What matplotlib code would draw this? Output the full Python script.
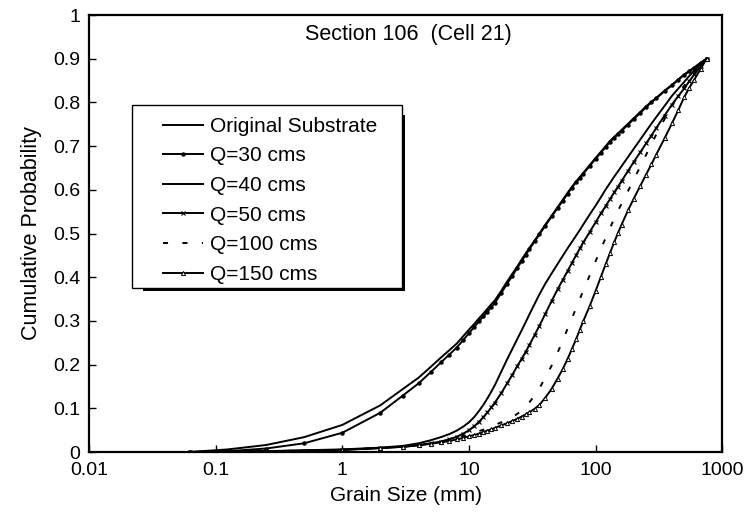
import matplotlib
matplotlib.use("Agg")
import matplotlib.pyplot as plt
from matplotlib.patches import Rectangle

plt.rcParams["font.family"] = ["Liberation Sans", "DejaVu Sans"]

# Sieve sizes (mm) shared by every gradation curve
grain_size = [0.0625, 0.125, 0.25, 0.5, 1, 2, 3, 4, 5, 6, 7, 8, 9, 10, 11, 12,
              13, 14, 15, 16, 18, 20, 22, 24, 26, 28, 30, 33, 36, 40, 45, 50,
              55, 60, 65, 70, 75, 80, 90, 100, 110, 120, 130, 140, 150, 160,
              180, 200, 225, 250, 275, 300, 350, 400, 450, 500, 550, 600, 675,
              750]

original = [0.000, 0.006, 0.016, 0.034, 0.062, 0.107, 0.144, 0.170, 0.195, 0.216,
            0.233, 0.248, 0.265, 0.280, 0.293, 0.306, 0.317, 0.328, 0.338, 0.347,
            0.369, 0.390, 0.408, 0.424, 0.440, 0.454, 0.467, 0.484, 0.500, 0.520,
            0.541, 0.560, 0.577, 0.593, 0.607, 0.619, 0.629, 0.639, 0.657, 0.673,
            0.687, 0.700, 0.712, 0.721, 0.729, 0.737, 0.751, 0.764, 0.778, 0.791,
            0.801, 0.810, 0.827, 0.840, 0.853, 0.864, 0.872, 0.880, 0.891, 0.900]

q30 = [0.000, 0.002, 0.008, 0.020, 0.044, 0.090, 0.129, 0.157, 0.183, 0.205,
       0.223, 0.239, 0.256, 0.272, 0.286, 0.299, 0.311, 0.321, 0.332, 0.341,
       0.364, 0.385, 0.403, 0.421, 0.436, 0.451, 0.464, 0.482, 0.498, 0.518,
       0.539, 0.558, 0.575, 0.591, 0.605, 0.617, 0.627, 0.637, 0.655, 0.671,
       0.685, 0.698, 0.710, 0.719, 0.727, 0.735, 0.749, 0.762, 0.776, 0.789,
       0.800, 0.809, 0.826, 0.839, 0.852, 0.863, 0.871, 0.879, 0.890, 0.900]

q40 = [0.000, 0.001, 0.002, 0.004, 0.006, 0.010, 0.014, 0.020, 0.027, 0.034,
       0.041, 0.049, 0.058, 0.068, 0.080, 0.094, 0.108, 0.123, 0.138, 0.153,
       0.184, 0.212, 0.236, 0.258, 0.278, 0.297, 0.315, 0.339, 0.361, 0.385,
       0.409, 0.430, 0.449, 0.466, 0.481, 0.495, 0.508, 0.521, 0.544, 0.564,
       0.583, 0.601, 0.616, 0.630, 0.642, 0.654, 0.675, 0.694, 0.715, 0.734,
       0.751, 0.766, 0.792, 0.815, 0.832, 0.847, 0.861, 0.873, 0.887, 0.900]

q50 = [0.000, 0.001, 0.002, 0.003, 0.005, 0.009, 0.012, 0.016, 0.020, 0.024,
       0.029, 0.035, 0.042, 0.050, 0.059, 0.069, 0.080, 0.091, 0.102, 0.113,
       0.135, 0.157, 0.177, 0.196, 0.213, 0.229, 0.245, 0.268, 0.289, 0.316,
       0.346, 0.372, 0.394, 0.414, 0.433, 0.450, 0.466, 0.480, 0.504, 0.526,
       0.546, 0.563, 0.579, 0.594, 0.607, 0.620, 0.643, 0.664, 0.686, 0.706,
       0.724, 0.741, 0.770, 0.795, 0.815, 0.832, 0.849, 0.864, 0.883, 0.900]

q100 = [0.000, 0.001, 0.002, 0.003, 0.005, 0.009, 0.012, 0.016, 0.020, 0.024,
        0.028, 0.032, 0.036, 0.040, 0.044, 0.048, 0.051, 0.055, 0.058, 0.062,
        0.068, 0.074, 0.080, 0.087, 0.095, 0.104, 0.114, 0.129, 0.146, 0.170,
        0.198, 0.227, 0.255, 0.282, 0.306, 0.329, 0.350, 0.370, 0.405, 0.437,
        0.465, 0.490, 0.513, 0.534, 0.552, 0.568, 0.597, 0.624, 0.653, 0.680,
        0.704, 0.726, 0.762, 0.793, 0.817, 0.838, 0.855, 0.870, 0.886, 0.900]

q150 = [0.000, 0.001, 0.002, 0.003, 0.005, 0.009, 0.012, 0.015, 0.019, 0.022,
        0.025, 0.029, 0.032, 0.036, 0.039, 0.042, 0.046, 0.049, 0.052, 0.055,
        0.061, 0.066, 0.071, 0.076, 0.081, 0.086, 0.091, 0.099, 0.108, 0.124,
        0.145, 0.168, 0.190, 0.213, 0.236, 0.258, 0.280, 0.300, 0.335, 0.369,
        0.401, 0.430, 0.456, 0.480, 0.501, 0.520, 0.553, 0.580, 0.609, 0.635,
        0.658, 0.680, 0.718, 0.752, 0.783, 0.812, 0.834, 0.852, 0.877, 0.900]

labels = ["Original Substrate", "Q=30 cms", "Q=40 cms", "Q=50 cms",
          "Q=100 cms", "Q=150 cms"]

fig = plt.figure(figsize=(7.47, 5.21), dpi=100)
ax = fig.add_axes([0.119, 0.1324, 0.848, 0.8388])

lw = 1.4
dash = (0, (2.6, 7.4))
ax.plot(grain_size, original, color="black", lw=lw, label=labels[0])
ax.plot(grain_size, q30, color="black", lw=lw, marker="o", ms=2.2,
        label=labels[1])
ax.plot(grain_size, q40, color="black", lw=lw, label=labels[2])
ax.plot(grain_size, q50, color="black", lw=lw, marker="x", ms=3.5, mew=0.8,
        label=labels[3])
ax.plot(grain_size, q100, color="black", lw=lw, linestyle=dash,
        label=labels[4])
ax.plot(grain_size, q150, color="black", lw=lw, marker="^", ms=3.0, mew=0.7,
        mfc="white", label=labels[5])

ax.set_xscale("log")
ax.set_xlim(0.01, 1000)
ax.set_ylim(0, 1)
ax.set_xticks([0.01, 0.1, 1, 10, 100, 1000])
ax.set_xticklabels(["0.01", "0.1", "1", "10", "100", "1000"])
ax.set_yticks([i / 10 for i in range(11)])
ax.set_yticklabels(["0"] + [f"{i / 10:.1f}" for i in range(1, 10)] + ["1"])
ax.xaxis.set_minor_locator(matplotlib.ticker.NullLocator())
ax.tick_params(direction="in", length=5, width=1, labelsize=14)
ax.tick_params(axis="x", pad=7.5)
ax.tick_params(axis="y", pad=6)

for spine in ax.spines.values():
    spine.set_linewidth(1.6)

ax.set_xlabel("Grain Size (mm)", fontsize=15, labelpad=5)
ax.set_ylabel("Cumulative Probability", fontsize=15.5, labelpad=8)

ax.text(0.504, 0.955, "Section 106  (Cell 21)", transform=ax.transAxes,
        ha="center", va="center", fontsize=15.5)

# Legend box drawn by hand: black drop shadow, then white framed panel
ax.add_patch(Rectangle((0.0853, 0.3684), 0.4139, 0.4028, transform=ax.transAxes,
                       facecolor="black", edgecolor="none", zorder=4))
ax.add_patch(Rectangle((0.0679, 0.3753), 0.4266, 0.4187, transform=ax.transAxes,
                       facecolor="white", edgecolor="black", lw=1.0, zorder=5))

leg = ax.legend(loc="upper left", bbox_to_anchor=(0.1169, 0.767),
                borderaxespad=0, borderpad=0, fontsize=15, handlelength=1.92,
                handletextpad=0.34, labelspacing=0.51, frameon=False)
leg.set_zorder(6)

fig.savefig("out.png", dpi=100, facecolor="white")
